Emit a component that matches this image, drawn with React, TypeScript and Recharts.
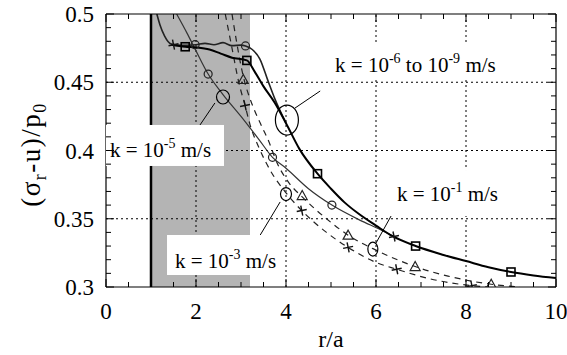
import React from 'react';
import {
  ComposedChart, Line, Scatter, XAxis, YAxis, ReferenceArea, ReferenceLine, ReferenceDot,
} from 'recharts';

// ---------- data ----------
const kUpper = [
  { x: 1.13, y: 0.5 }, { x: 1.2, y: 0.492 }, { x: 1.3, y: 0.484 }, { x: 1.45, y: 0.478 },
  { x: 1.7, y: 0.477 }, { x: 2.0, y: 0.4775 }, { x: 2.2, y: 0.4785 }, { x: 2.4, y: 0.4775 },
  { x: 2.6, y: 0.479 }, { x: 2.8, y: 0.4768 }, { x: 3.0, y: 0.4772 }, { x: 3.1, y: 0.4766 },
  { x: 3.25, y: 0.474 }, { x: 3.42, y: 0.467 }, { x: 3.6, y: 0.451 }, { x: 3.75, y: 0.438 },
  { x: 4.0, y: 0.42 },
];
const kMain = [
  { x: 1.45, y: 0.4775 }, { x: 1.76, y: 0.476 }, { x: 2.0, y: 0.4755 }, { x: 2.3, y: 0.474 },
  { x: 2.55, y: 0.471 }, { x: 2.8, y: 0.468 }, { x: 3.13, y: 0.466 }, { x: 3.3, y: 0.458 },
  { x: 3.5, y: 0.447 }, { x: 3.75, y: 0.435 }, { x: 4.0, y: 0.42 }, { x: 4.3, y: 0.401 },
  { x: 4.7, y: 0.383 }, { x: 5.0, y: 0.372 }, { x: 5.3, y: 0.362 }, { x: 5.6, y: 0.354 },
  { x: 6.0, y: 0.345 }, { x: 6.38, y: 0.337 }, { x: 6.88, y: 0.33 }, { x: 7.5, y: 0.3235 },
  { x: 8.0, y: 0.319 }, { x: 8.5, y: 0.3145 }, { x: 9.0, y: 0.311 }, { x: 9.5, y: 0.3085 },
  { x: 10, y: 0.3066 },
];
const k1e5 = [
  { x: 1.57, y: 0.5 }, { x: 1.8, y: 0.486 }, { x: 2.0, y: 0.473 }, { x: 2.27, y: 0.456 },
  { x: 2.6, y: 0.441 }, { x: 3.0, y: 0.425 }, { x: 3.4, y: 0.408 }, { x: 3.7, y: 0.395 },
  { x: 4.0, y: 0.387 }, { x: 4.5, y: 0.372 }, { x: 5.02, y: 0.36 }, { x: 5.64, y: 0.349 },
  { x: 6.1, y: 0.342 }, { x: 6.4, y: 0.337 },
];
const k1e3 = [
  { x: 2.8, y: 0.5 }, { x: 2.9, y: 0.48 }, { x: 3.0, y: 0.462 }, { x: 3.1, y: 0.448 },
  { x: 3.2, y: 0.438 }, { x: 3.47, y: 0.417 }, { x: 3.6, y: 0.408 }, { x: 3.8, y: 0.391 },
  { x: 4.05, y: 0.377 }, { x: 4.36, y: 0.366 }, { x: 4.9, y: 0.35 }, { x: 5.38, y: 0.338 },
  { x: 6.0, y: 0.327 }, { x: 6.87, y: 0.315 }, { x: 7.6, y: 0.308 }, { x: 8.56, y: 0.302 },
  { x: 9.2, y: 0.3 },
];
const k1e1 = [
  { x: 2.65, y: 0.5 }, { x: 2.8, y: 0.475 }, { x: 2.95, y: 0.45 }, { x: 3.09, y: 0.433 },
  { x: 3.2, y: 0.419 }, { x: 3.4, y: 0.402 }, { x: 3.64, y: 0.386 }, { x: 4.0, y: 0.369 },
  { x: 4.35, y: 0.356 }, { x: 4.9, y: 0.34 }, { x: 5.38, y: 0.329 }, { x: 6.0, y: 0.318 },
  { x: 6.46, y: 0.313 }, { x: 7.2, y: 0.306 }, { x: 8.13, y: 0.301 }, { x: 8.5, y: 0.3 },
];

const squareMarks = [
  { x: 1.76, y: 0.476 }, { x: 3.13, y: 0.466 }, { x: 4.7, y: 0.383 }, { x: 6.88, y: 0.33 }, { x: 9.0, y: 0.311 },
];
const circleMarks = [
  { x: 1.98, y: 0.4775 }, { x: 3.1, y: 0.4766 }, { x: 2.27, y: 0.456 }, { x: 3.7, y: 0.395 }, { x: 5.02, y: 0.36 },
];
const crossMarks = [
  { x: 1.5, y: 0.4775 }, { x: 3.09, y: 0.433 }, { x: 4.35, y: 0.356 }, { x: 5.38, y: 0.329 },
  { x: 6.46, y: 0.313 }, { x: 8.13, y: 0.301 }, { x: 6.4, y: 0.337 },
];
const triangleMarks = [
  { x: 3.05, y: 0.452 }, { x: 4.36, y: 0.367 }, { x: 5.38, y: 0.338 }, { x: 6.87, y: 0.315 }, { x: 8.56, y: 0.302 },
];

const xTicks = [0, 0.5, 1, 1.5, 2, 2.5, 3, 3.5, 4, 4.5, 5, 5.5, 6, 6.5, 7, 7.5, 8, 8.5, 9, 9.5, 10];
const xMajor = [0, 2, 4, 6, 8, 10];
const xMajorLabels = ['0', '2', '4', '6', '8', '10'];
const yTicks = [0.3, 0.31, 0.32, 0.33, 0.34, 0.35, 0.36, 0.37, 0.38, 0.39, 0.4,
  0.41, 0.42, 0.43, 0.44, 0.45, 0.46, 0.47, 0.48, 0.49, 0.5];
const yMajor = [0.3, 0.35, 0.4, 0.45, 0.5];
const yMajorLabels = ['0.3', '0.35', '0.4', '0.45', '0.5'];
const xGrid = [2, 4, 6, 8];
const yGrid = [0.35, 0.4, 0.45];
const shadeRange = [1, 3.2];

type Part = [string, boolean];
const label1e5: Part[] = [['k = 10', false], ['-5', true], [' m/s', false]];
const label1e3: Part[] = [['k = 10', false], ['-3', true], [' m/s', false]];
const label1e69: Part[] = [['k = 10', false], ['-6', true], [' to 10', false], ['-9', true], [' m/s', false]];
const label1e1: Part[] = [['k = 10', false], ['-1', true], [' m/s', false]];

// ---------- styling helpers ----------
const FONT = 'Liberation Serif';
const fontStyle = { fontFamily: '"Liberation Serif", "Times New Roman", serif' };
const idx = (arr: number[], v: number) => arr.findIndex((m) => Math.abs(m - v) < 1e-6);

const BottomTick = (p: any) => {
  const i = idx(xMajor, p.payload.value);
  const len = i >= 0 ? 8 : 5;
  return (
    <g>
      <line x1={p.x} x2={p.x} y1={p.y} y2={p.y - len} stroke="#000" strokeWidth={1} />
      {i >= 0 && (
        <text x={p.x} y={p.y + 32} textAnchor="middle" fontFamily={FONT} style={fontStyle} fontSize={23} fill="#000" stroke="none">
          {xMajorLabels[i]}
        </text>
      )}
    </g>
  );
};
const TopTick = (p: any) => {
  const i = idx(xMajor, p.payload.value);
  const len = i >= 0 ? 8 : 5;
  return <line x1={p.x} x2={p.x} y1={p.y} y2={p.y + len} stroke="#000" strokeWidth={1} />;
};
const LeftTick = (p: any) => {
  const i = idx(yMajor, p.payload.value);
  const len = i >= 0 ? 8 : 5;
  return (
    <g>
      <line x1={p.x} x2={p.x + len} y1={p.y} y2={p.y} stroke="#000" strokeWidth={1} />
      {i >= 0 && (
        <text x={p.x - 12} y={p.y + 8} textAnchor="end" fontFamily={FONT} style={fontStyle} fontSize={23} fill="#000" stroke="none">
          {yMajorLabels[i]}
        </text>
      )}
    </g>
  );
};
const RightTick = (p: any) => {
  const i = idx(yMajor, p.payload.value);
  const len = i >= 0 ? 8 : 5;
  return <line x1={p.x} x2={p.x - len} y1={p.y} y2={p.y} stroke="#000" strokeWidth={1} />;
};

// white box with text, anchored at its top-left corner (the ReferenceDot position)
const boxShape = (parts: Part[], w: number, h: number, dx: number, dy: number) => (p: any) => {
  const out: any[] = [];
  let prevSup = false;
  parts.forEach(([t, sup], k) => {
    let shift = 0;
    if (sup && !prevSup) shift = -9;
    if (!sup && prevSup) shift = 9;
    prevSup = sup;
    out.push(<tspan key={k} dy={shift} fontSize={sup ? 14 : 21}>{t}</tspan>);
  });
  return (
    <g>
      <rect x={p.cx} y={p.cy} width={w} height={h} fill="#fff" stroke="none" />
      <text x={p.cx + dx} y={p.cy + dy} fontFamily={FONT} fill="#000" stroke="none"
        style={{ ...fontStyle, whiteSpace: 'pre' }}>
        {out}
      </text>
    </g>
  );
};

const YTitle = (props: any) => {
  const vb = props.viewBox || { x: 0, y: 14, height: 273 };
  const cx = 40;
  const cy = vb.y + vb.height / 2 + 4;
  return (
    <text x={cx} y={cy} transform={`rotate(-90, ${cx}, ${cy})`} textAnchor="middle"
      fontFamily={FONT} style={{ ...fontStyle, letterSpacing: '1.5px' }} fontSize={27} fill="#000">
      <tspan>(σ</tspan>
      <tspan dy={6} fontSize={18}>r</tspan>
      <tspan dy={-6}>-u)/p</tspan>
      <tspan dy={6} fontSize={18}>0</tspan>
    </text>
  );
};
const XTitle = (props: any) => {
  const vb = props.viewBox || { x: 106, y: 287, width: 450 };
  return (
    <text x={vb.x + vb.width / 2} y={347} textAnchor="middle" fontFamily={FONT} style={fontStyle}
      fontSize={24} fill="#000">
      r/a
    </text>
  );
};

const SquareShape = (p: any) => (
  <rect x={p.cx - 4} y={p.cy - 4} width={8} height={8} fill="none" stroke="#000" strokeWidth={1.6} />
);
const CircleShape = (p: any) => (
  <circle cx={p.cx} cy={p.cy} r={4} fill="none" stroke="#222" strokeWidth={1.2} />
);
const CrossShape = (p: any) => (
  <g stroke="#111" strokeWidth={1.4}>
    <line x1={p.cx - 5} x2={p.cx + 5} y1={p.cy + 1} y2={p.cy - 1} />
    <line x1={p.cx - 1} x2={p.cx + 1} y1={p.cy - 5} y2={p.cy + 5} />
  </g>
);
const TriangleShape = (p: any) => (
  <polygon points={`${p.cx},${p.cy - 5} ${p.cx - 5},${p.cy + 4} ${p.cx + 5},${p.cy + 4}`}
    fill="none" stroke="#222" strokeWidth={1.2} />
);
const ellipseShape = (rx: number, ry: number) => (p: any) => (
  <ellipse cx={p.cx} cy={p.cy} rx={rx} ry={ry} fill="none" stroke="#000" strokeWidth={1.2} />
);

export default function App() {
  return (
    <div style={{ position: 'absolute', left: 0, top: 0, width: 567, height: 355, background: '#fff' }}>
      <ComposedChart width={567} height={355} margin={{ top: 0, right: 0, bottom: 0, left: 0 }}>
        <XAxis dataKey="x" type="number" domain={[0, 10]} ticks={xTicks} interval={0}
          allowDataOverflow height={68} tickSize={0} tickMargin={0} tick={<BottomTick />}
          axisLine={{ stroke: '#000', strokeWidth: 1.2 }} tickLine={false} label={<XTitle />} />
        <XAxis xAxisId="t" orientation="top" dataKey="x" type="number" domain={[0, 10]} ticks={xTicks}
          interval={0} allowDataOverflow height={14} tickSize={0} tickMargin={0} tick={<TopTick />}
          axisLine={{ stroke: '#000', strokeWidth: 1.2 }} tickLine={false} />
        <YAxis dataKey="y" type="number" domain={[0.3, 0.5]} ticks={yTicks} interval={0}
          allowDataOverflow width={106} tickSize={0} tickMargin={0} tick={<LeftTick />}
          axisLine={{ stroke: '#000', strokeWidth: 1.2 }} tickLine={false} label={<YTitle />} />
        <YAxis yAxisId="r" orientation="right" dataKey="y" type="number" domain={[0.3, 0.5]} ticks={yTicks}
          interval={0} allowDataOverflow width={11} tickSize={0} tickMargin={0} tick={<RightTick />}
          axisLine={{ stroke: '#000', strokeWidth: 1.2 }} tickLine={false} />

        <ReferenceArea x1={shadeRange[0]} x2={shadeRange[1]} y1={0.3} y2={0.5} fill="#b4b4b4"
          fillOpacity={1} stroke="none" ifOverflow="hidden" />
        {xGrid.map((g) => (
          <ReferenceLine key={'gx' + g} x={g} stroke="#000" strokeDasharray="2 3" strokeWidth={1} />
        ))}
        {yGrid.map((g) => (
          <ReferenceLine key={'gy' + g} y={g} stroke="#000" strokeDasharray="2 3" strokeWidth={1} />
        ))}
        <ReferenceLine x={shadeRange[0]} stroke="#000" strokeWidth={2.5} />

        <Line data={k1e1} dataKey="y" type="monotone" stroke="#222" strokeWidth={1.2} strokeDasharray="6 5"
          dot={false} isAnimationActive={false} />
        <Line data={k1e3} dataKey="y" type="monotone" stroke="#222" strokeWidth={1.2} strokeDasharray="6 5"
          dot={false} isAnimationActive={false} />
        <Line data={k1e5} dataKey="y" type="monotone" stroke="#333" strokeWidth={1.2}
          dot={false} isAnimationActive={false} />
        <Line data={kUpper} dataKey="y" type="monotone" stroke="#222" strokeWidth={1.6}
          dot={false} isAnimationActive={false} />
        <Line data={kMain} dataKey="y" type="monotone" stroke="#000" strokeWidth={2}
          dot={false} isAnimationActive={false} />

        <Scatter data={squareMarks} shape={<SquareShape />} isAnimationActive={false} />
        <Scatter data={circleMarks} shape={<CircleShape />} isAnimationActive={false} />
        <Scatter data={crossMarks} shape={<CrossShape />} isAnimationActive={false} />
        <Scatter data={triangleMarks} shape={<TriangleShape />} isAnimationActive={false} />

        {/* label boxes */}
        <ReferenceDot x={0} y={0.4187} r={1} shape={boxShape(label1e5, 118, 41, 4, 32)} />
        <ReferenceDot x={1.356} y={0.3381} r={1} shape={boxShape(label1e3, 118, 40, 8, 33)} />
        <ReferenceDot x={4.98} y={0.4773} r={1} shape={boxShape(label1e69, 170, 35, 5, 27)} />
        <ReferenceDot x={6.31} y={0.3857} r={1} shape={boxShape(label1e1, 115, 46, 7, 31)} />

        {/* callout ellipses and leader lines */}
        <ReferenceDot x={4.02} y={0.4223} r={12} shape={ellipseShape(11.5, 15)} />
        <ReferenceDot x={2.6} y={0.4392} r={6} shape={ellipseShape(6.5, 7)} />
        <ReferenceDot x={4.0} y={0.3681} r={6} shape={ellipseShape(5.5, 6.5)} />
        <ReferenceDot x={5.93} y={0.3278} r={6} shape={ellipseShape(5, 7)} />
        <ReferenceLine segment={[{ x: 4.2, y: 0.4311 }, { x: 4.76, y: 0.4436 }]} stroke="#000" strokeWidth={1} />
        <ReferenceLine segment={[{ x: 1.91, y: 0.41 }, { x: 2.42, y: 0.4348 }]} stroke="#000" strokeWidth={1} />
        <ReferenceLine segment={[{ x: 3.36, y: 0.3344 }, { x: 3.87, y: 0.3623 }]} stroke="#000" strokeWidth={1} />
        <ReferenceLine segment={[{ x: 6.0, y: 0.3322 }, { x: 6.47, y: 0.36 }]} stroke="#000" strokeWidth={1} />
      </ComposedChart>
    </div>
  );
}
